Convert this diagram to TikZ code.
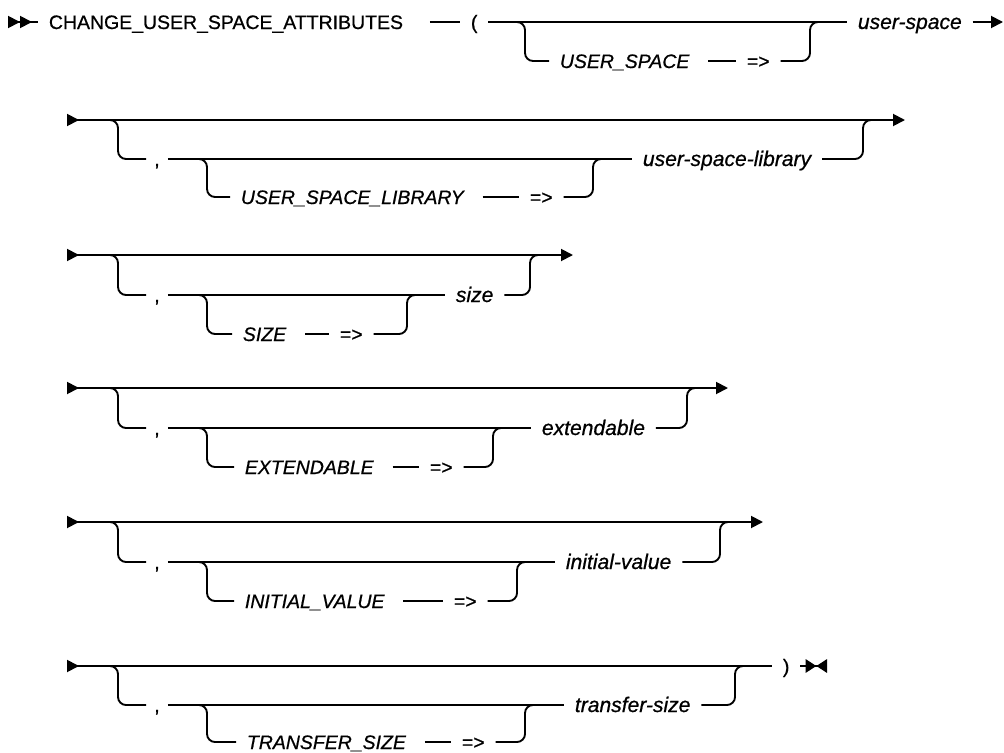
\documentclass[tikz,border=0pt]{standalone}
\usepackage{fontspec}
\setmainfont{Liberation Sans}[BoldFont=Liberation Sans,BoldFeatures={FakeBold=0.7},BoldItalicFont=Liberation Sans Italic,BoldItalicFeatures={FakeBold=0.7}]
\usepackage{tikz}
\usetikzlibrary{arrows.meta}

\begin{document}
\begin{tikzpicture}[x=0.75pt,y=0.75pt,yscale=-1,xscale=1,
    every node/.style={inner xsep=8pt,inner ysep=0pt,text height=12pt,text depth=1.5pt,font=\fontsize{14.6}{17}\selectfont\bfseries},
    kwd/.style={font=\fontsize{14.6}{17}\selectfont\bfseries\itshape},
    vrb/.style={font=\fontsize{15.8}{18}\selectfont\bfseries\itshape},
    cma/.style={inner xsep=6pt},
    rail/.style={line width=1.4pt,rounded corners=6pt},
    gapline/.style={line width=1.4pt,shorten <=6pt},
    rowline/.style={line width=1.4pt,{Triangle[reversed,length=9pt,width=9pt]}-{Triangle[length=9pt,width=9pt]}},
    endarrow/.style={line width=1.4pt,-{Triangle[length=9pt,width=9pt]}}]
            \useasboundingbox (0,0) rectangle (1004,753);
            
            % Text Node
            \draw (38,22) node [anchor=west] (title) {CHANGE\_USER\_SPACE\_ATTRIBUTES};
            % Text Node
            \draw (460,22) node [anchor=west] (lpar) {(};
            % Text Node
            \draw (549,61) node [anchor=west] [kwd] (kwUS) {USER\_SPACE};
            % Text Node
            \draw (736,61) node [anchor=west] (eqUS) {=>};
            % Text Node
            \draw (847,22) node [anchor=west] [vrb] (vUS) {user-space};
            \coordinate (r1s) at (8,22);
            \coordinate (r1e) at (1003,22);
            
            %Straight Lines
            \draw [line width=1.4pt,{Triangle[reversed,length=9pt,width=9pt]Triangle[reversed,length=9pt,width=9pt]}-] (r1s) -- (title.west);
            \draw [gapline,shorten <=12pt] (title.east) -- (lpar.west);
            \draw [rail] (lpar.east) -- (vUS.west);
            \draw [endarrow] (vUS.east) -- (r1e);
            %Curve Lines
            \draw [rail] (512,22) -- (525,22) -- (525,61) -- (kwUS.west);
            \draw [gapline] (kwUS.east) -- (eqUS.west);
            \draw [rail] (eqUS.east) -- (810,61) -- (810,22) -- (822,22);
            
            % Text Node
            \draw (146,159) node [anchor=west] [cma] (cmLib) {,};
            % Text Node
            \draw (230,197) node [anchor=west] [kwd] (kwLib) {USER\_SPACE\_LIBRARY};
            % Text Node
            \draw (519,197) node [anchor=west] (eqLib) {=>};
            % Text Node
            \draw (632,159) node [anchor=west] [vrb] (vLib) {user-space-library};
            \coordinate (r2s) at (67,120);
            \coordinate (r2e) at (905,120);
            
            %Straight Lines
            \draw [rowline] (r2s) -- (r2e);
            \draw [rail] (cmLib.east) -- (vLib.west);
            \draw [gapline] (kwLib.east) -- (eqLib.west);
            %Curve Lines
            \draw [rail] (105,120) -- (118,120) -- (118,159) -- (cmLib.west);
            \draw [rail] (195,159) -- (207,159) -- (207,197) -- (kwLib.west);
            \draw [rail] (eqLib.east) -- (593,197) -- (593,159) -- (605,159);
            \draw [rail] (vLib.east) -- (863,159) -- (863,120) -- (875,120);
            
            % Text Node
            \draw (146,295) node [anchor=west] [cma] (cmSize) {,};
            % Text Node
            \draw (232,334) node [anchor=west] [kwd] (kwSize) {SIZE};
            % Text Node
            \draw (329,334) node [anchor=west] (eqSize) {=>};
            % Text Node
            \draw (445,295) node [anchor=west] [vrb] (vSize) {size};
            \coordinate (r3s) at (67,255);
            \coordinate (r3e) at (573,255);
            
            %Straight Lines
            \draw [rowline] (r3s) -- (r3e);
            \draw [rail] (cmSize.east) -- (vSize.west);
            \draw [gapline] (kwSize.east) -- (eqSize.west);
            %Curve Lines
            \draw [rail] (105,255) -- (118,255) -- (118,295) -- (cmSize.west);
            \draw [rail] (195,295) -- (207,295) -- (207,334) -- (kwSize.west);
            \draw [rail] (eqSize.east) -- (407,334) -- (407,295) -- (419,295);
            \draw [rail] (vSize.east) -- (530,295) -- (530,255) -- (542,255);
            
            % Text Node
            \draw (146,428) node [anchor=west] [cma] (cmExt) {,};
            % Text Node
            \draw (234,467) node [anchor=west] [kwd] (kwExt) {EXTENDABLE};
            % Text Node
            \draw (419,467) node [anchor=west] (eqExt) {=>};
            % Text Node
            \draw (531,428) node [anchor=west] [vrb] (vExt) {extendable};
            \coordinate (r4s) at (67,388);
            \coordinate (r4e) at (728,388);
            
            %Straight Lines
            \draw [rowline] (r4s) -- (r4e);
            \draw [rail] (cmExt.east) -- (vExt.west);
            \draw [gapline] (kwExt.east) -- (eqExt.west);
            %Curve Lines
            \draw [rail] (105,388) -- (118,388) -- (118,428) -- (cmExt.west);
            \draw [rail] (195,428) -- (207,428) -- (207,467) -- (kwExt.west);
            \draw [rail] (eqExt.east) -- (493,467) -- (493,428) -- (505,428);
            \draw [rail] (vExt.east) -- (687,428) -- (687,388) -- (699,388);
            
            % Text Node
            \draw (146,562) node [anchor=west] [cma] (cmInit) {,};
            % Text Node
            \draw (234,601) node [anchor=west] [kwd] (kwInit) {INITIAL\_VALUE};
            % Text Node
            \draw (443,601) node [anchor=west] (eqInit) {=>};
            % Text Node
            \draw (555,562) node [anchor=west] [vrb] (vInit) {initial-value};
            \coordinate (r5s) at (67,522);
            \coordinate (r5e) at (763,522);
            
            %Straight Lines
            \draw [rowline] (r5s) -- (r5e);
            \draw [rail] (cmInit.east) -- (vInit.west);
            \draw [gapline] (kwInit.east) -- (eqInit.west);
            %Curve Lines
            \draw [rail] (105,522) -- (118,522) -- (118,562) -- (cmInit.west);
            \draw [rail] (195,562) -- (207,562) -- (207,601) -- (kwInit.west);
            \draw [rail] (eqInit.east) -- (517,601) -- (517,562) -- (529,562);
            \draw [rail] (vInit.east) -- (720,562) -- (720,522) -- (732,522);
            
            % Text Node
            \draw (146,705) node [anchor=west] [cma] (cmTr) {,};
            % Text Node
            \draw (236,742) node [anchor=west] [kwd] (kwTr) {TRANSFER\_SIZE};
            % Text Node
            \draw (451,742) node [anchor=west] (eqTr) {=>};
            % Text Node
            \draw (564,705) node [anchor=west] [vrb] (vTr) {transfer-size};
            % Text Node
            \draw (772,666) node [anchor=west] (rpar) {)};
            \coordinate (r6s) at (67,666);
            \coordinate (r6e) at (827,666);
            
            %Straight Lines
            \draw [line width=1.4pt,{Triangle[reversed,length=9pt,width=9pt]}-] (r6s) -- (rpar.west);
            \draw [line width=1.4pt,-{Triangle[length=8pt,width=10pt]Triangle[reversed,length=8pt,width=10pt]}] (rpar.east) -- (r6e);
            \draw [rail] (cmTr.east) -- (vTr.west);
            \draw [gapline] (kwTr.east) -- (eqTr.west);
            %Curve Lines
            \draw [rail] (105,666) -- (118,666) -- (118,705) -- (cmTr.west);
            \draw [rail] (195,705) -- (207,705) -- (207,742) -- (kwTr.west);
            \draw [rail] (eqTr.east) -- (525,742) -- (525,705) -- (537,705);
            \draw [rail] (vTr.east) -- (735,705) -- (735,666) -- (747,666);
\end{tikzpicture}
\end{document}
